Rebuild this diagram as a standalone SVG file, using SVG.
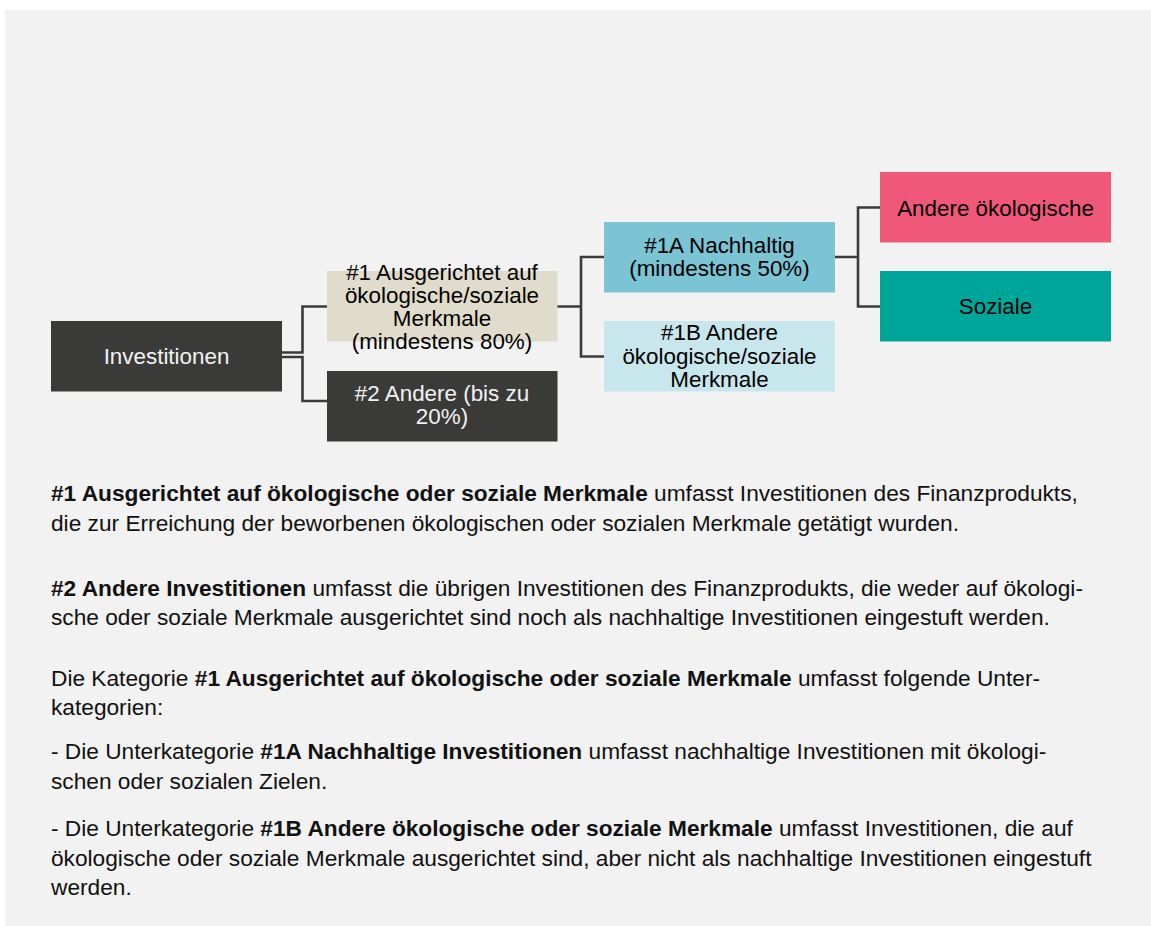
<svg xmlns="http://www.w3.org/2000/svg" width="1151" height="926" viewBox="0 0 1151 926">
<style>
.t{font-family:"Liberation Sans",Arial,sans-serif;font-size:22.4px;text-anchor:middle}
.dk{fill:#f2f2f2}
.lt{fill:#000}
.body{font-family:"Liberation Sans",Arial,sans-serif;font-size:22.7px;fill:#111}
.b{font-weight:bold}
.c{fill:none;stroke:#3b3c39;stroke-width:2.6}
</style>
<rect x="0" y="0" width="1151" height="926" fill="#ffffff"/>
<rect x="5" y="10" width="1146" height="916" fill="#f2f2f2"/>
<g id="connectors">
<path class="c" d="M282 352.5H302.5V306.5H327"/>
<path class="c" d="M282 357H302.5V401H327"/>
<path class="c" d="M557 306.5H581V257H604M581 306.5V356.5H604"/>
<path class="c" d="M835 257H858V207.5H880M858 257V306.5H880"/>
</g>
<g id="n-investitionen">
<rect x="51" y="321" width="231" height="70.5" fill="#3a3b38"/>
<text class="t dk" x="166.5" y="363.5">Investitionen</text>
</g>
<g id="n-1">
<rect x="327" y="271" width="230.5" height="70.5" fill="#e0dccb"/>
<text class="t lt" x="442" y="279.5">#1 Ausgerichtet auf</text>
<text class="t lt" x="442" y="302.5">ökologische/soziale</text>
<text class="t lt" x="442" y="325.5">Merkmale</text>
<text class="t lt" x="442" y="348.5">(mindestens 80%)</text>
</g>
<g id="n-2">
<rect x="327" y="371" width="230.5" height="70.5" fill="#3a3b38"/>
<text class="t dk" x="442" y="400.5">#2 Andere (bis zu</text>
<text class="t dk" x="442" y="423.5">20%)</text>
</g>
<g id="n-1a">
<rect x="604" y="222" width="231" height="70.5" fill="#7ac4d4"/>
<text class="t lt" x="719.5" y="253">#1A Nachhaltig</text>
<text class="t lt" x="719.5" y="276">(mindestens 50%)</text>
</g>
<g id="n-1b">
<rect x="604" y="321" width="231" height="70.5" fill="#c8e7ed"/>
<text class="t lt" x="719.5" y="339.5">#1B Andere</text>
<text class="t lt" x="719.5" y="363.5">ökologische/soziale</text>
<text class="t lt" x="719.5" y="387">Merkmale</text>
</g>
<g id="n-andere">
<rect x="880" y="172" width="231" height="70.5" fill="#f0587a"/>
<text class="t lt" x="995.5" y="215.5">Andere ökologische</text>
</g>
<g id="n-soziale">
<rect x="880" y="271" width="231" height="70.5" fill="#00a59a"/>
<text class="t lt" x="995.5" y="314">Soziale</text>
</g>
<g id="legend">
<text class="body" x="51" y="501"><tspan class="b">#1 Ausgerichtet auf ökologische oder soziale Merkmale</tspan> umfasst Investitionen des Finanzprodukts,</text>
<text class="body" x="51" y="531">die zur Erreichung der beworbenen ökologischen oder sozialen Merkmale getätigt wurden.</text>
<text class="body" x="51" y="596"><tspan class="b">#2 Andere Investitionen</tspan> umfasst die übrigen Investitionen des Finanzprodukts, die weder auf ökologi-</text>
<text class="body" x="51" y="625">sche oder soziale Merkmale ausgerichtet sind noch als nachhaltige Investitionen eingestuft werden.</text>
<text class="body" x="51" y="686">Die Kategorie <tspan class="b">#1 Ausgerichtet auf ökologische oder soziale Merkmale</tspan> umfasst folgende Unter-</text>
<text class="body" x="51" y="715">kategorien:</text>
<text class="body" x="51" y="759">- Die Unterkategorie <tspan class="b">#1A Nachhaltige Investitionen</tspan> umfasst nachhaltige Investitionen mit ökologi-</text>
<text class="body" x="51" y="789">schen oder sozialen Zielen.</text>
<text class="body" x="51" y="836">- Die Unterkategorie <tspan class="b">#1B Andere ökologische oder soziale Merkmale</tspan> umfasst Investitionen, die auf</text>
<text class="body" x="51" y="866">ökologische oder soziale Merkmale ausgerichtet sind, aber nicht als nachhaltige Investitionen eingestuft</text>
<text class="body" x="51" y="895">werden.</text>
</g>
</svg>
